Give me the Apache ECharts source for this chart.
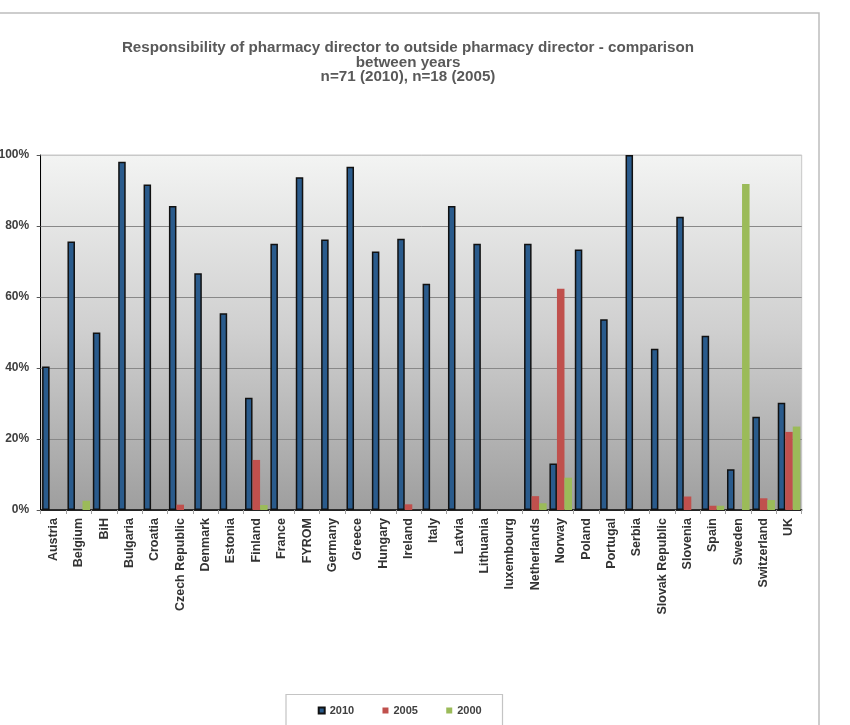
<!DOCTYPE html>
<html>
<head>
<meta charset="utf-8">
<script src="https://cdn.jsdelivr.net/npm/echarts@6/dist/echarts.min.js"></script>
<style>
html,body{margin:0;padding:0;background:#fff;}
#chart{width:850px;height:725px;}
</style>
</head>
<body>
<div id="chart"></div>
<script>
var categories = ['Austria','Belgium','BiH','Bulgaria','Croatia','Czech Republic','Denmark','Estonia','Finland','France','FYROM','Germany','Greece','Hungary','Ireland','Italy','Latvia','Lithuania','luxembourg','Netherlands','Norway','Poland','Portugal','Serbia','Slovak Republic','Slovenia','Spain','Sweden','Switzerland','UK'];
var v2010 = [40.4, 75.6, 50, 98.1, 91.7, 85.6, 66.7, 55.4, 31.6, 75, 93.7, 76.2, 96.7, 72.8, 76.4, 63.7, 85.6, 75, null, 75, 13.1, 73.4, 53.7, 100, 45.4, 82.6, 49.1, 11.5, 26.3, 30.2];
var v2005 = [null, null, null, null, null, 1.5, null, null, 14.1, null, null, null, null, null, 1.6, null, null, null, null, 3.9, 62.3, null, null, null, null, 3.8, 1.2, null, 3.3, 22];
var v2000 = [null, 2.6, null, null, null, null, null, null, 1.4, null, null, null, null, null, null, null, null, null, null, 1.9, 9.1, null, null, null, null, null, 1.2, 91.8, 2.8, 23.5];
var seriesNames = ['2010', '2005', '2000'];
var yTicks = [0, 20, 40, 60, 80, 100];
var titleText = 'Responsibility of pharmacy director to outside pharmacy director - comparison\nbetween years\nn=71 (2010), n=18 (2005)';

var chart = echarts.init(document.getElementById('chart'), null, {renderer: 'canvas'});
var FONT = '"Liberation Sans", Arial, sans-serif';

var option = {
  animation: false,
  textStyle: {fontFamily: FONT},
  title: {
    text: titleText,
    left: 408,
    top: 41,
    padding: 0,
    textAlign: 'center',
    textStyle: {fontFamily: FONT, fontSize: 15.2, fontWeight: 'bold', color: '#595959', lineHeight: 14.5}
  },
  graphic: [
    {type: 'rect', shape: {x: -5, y: 13, width: 824, height: 740}, style: {fill: 'none', stroke: '#bdbdbd', lineWidth: 1.5}, z: -10},
    {type: 'rect', shape: {x: 286, y: 694.5, width: 216.5, height: 40}, style: {fill: '#fff', stroke: '#c4c4c4', lineWidth: 1.2}, z: 0}
  ],
  legend: {
    data: seriesNames,
    left: 317.7,
    top: 705,
    padding: 0,
    itemWidth: 6,
    itemHeight: 6,
    itemGap: 28.3,
    icon: 'rect',
    z: 5,
    textStyle: {fontFamily: FONT, fontSize: 11, fontWeight: 'bold', color: '#404040'}
  },
  grid: {
    left: 40.7, right: 48.3, top: 155, bottom: 215,
    outerBoundsMode: 'none',
    containLabel: false,
    show: true,
    borderWidth: 1,
    borderColor: '#c8c8c8',
    backgroundColor: new echarts.graphic.LinearGradient(0, 0, 0, 1, [
      {offset: 0, color: '#f3f4f3'},
      {offset: 0.5, color: '#cfcfcf'},
      {offset: 1, color: '#9e9e9e'}
    ])
  },
  xAxis: {
    type: 'category',
    data: categories,
    axisLine: {lineStyle: {color: '#000', width: 1.5}},
    axisTick: {show: true, length: 4, lineStyle: {color: '#a0a0a0'}},
    axisLabel: {rotate: 90, interval: 0, margin: 8, fontFamily: FONT, fontSize: 12.5, fontWeight: 'bold', color: '#333'}
  },
  yAxis: {
    type: 'value',
    min: 0, max: 100, interval: 20,
    axisLine: {show: true, lineStyle: {color: '#000', width: 1}},
    axisTick: {show: true, length: 4, lineStyle: {color: '#555'}},
    axisLabel: {margin: 11.5, fontFamily: FONT, fontSize: 12, fontWeight: 'bold', color: '#404040',
      formatter: function (v) { return yTicks.indexOf(v) >= 0 ? v + '%' : ''; }},
    splitLine: {show: true, lineStyle: {color: ['#888', '#888', '#888', '#888', '#888', '#c8c8c8'], width: 1}}
  },
  series: [
    {name: seriesNames[0], type: 'bar', data: v2010, barGap: 0, barCategoryGap: '11%',
      itemStyle: {color: '#2a5b8c', borderColor: '#111', borderWidth: 1.5}},
    {name: seriesNames[1], type: 'bar', data: v2005, barGap: 0, barCategoryGap: '11%',
      itemStyle: {color: '#c0504d'}},
    {name: seriesNames[2], type: 'bar', data: v2000, barGap: 0, barCategoryGap: '11%',
      itemStyle: {color: '#9bbb59'}}
  ]
};
chart.setOption(option);
</script>
</body>
</html>
